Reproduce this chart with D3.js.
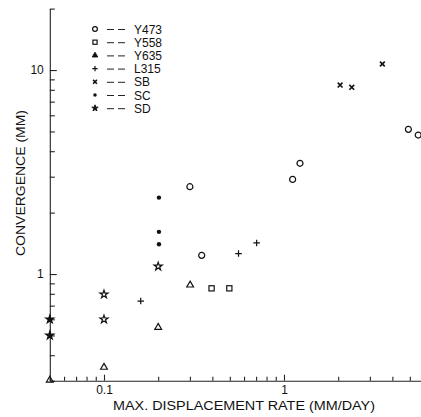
<!DOCTYPE html>
<html lang="en">
<head>
  <meta charset="UTF-8" />
  <title>Convergence vs displacement rate</title>
  <script src="https://d3js.org/d3.v7.min.js"></script>
  <style>
    body { margin: 0; padding: 0; background: #fff; }
    svg { display: block; font-family: "Liberation Sans", Arial, sans-serif; }
    .axis path, .axis line { stroke: #222; stroke-width: 1.1; }
    .axis text { fill: #111; font-size: 12px; }
    .mark { stroke: #111; stroke-width: 1.2; }
  </style>
</head>
<body>
<div id="chart"></div>
<script>
  // ---- data ----
  const seriesNames = ["Y473", "Y558", "Y635", "L315", "SB", "SC", "SD"];

  const y473Rate = [0.30, 0.349, 1.117, 1.227, 4.91, 5.57];
  const y473Conv = [2.68, 1.235, 2.91, 3.49, 5.12, 4.80];

  const y558Rate = [0.396, 0.497];
  const y558Conv = [0.851, 0.851];

  const y635Rate = [0.05, 0.10, 0.20, 0.301];
  const y635Conv = [0.302, 0.349, 0.548, 0.883];

  const l315Rate = [0.16, 0.559, 0.705];
  const l315Conv = [0.737, 1.26, 1.42];

  const sbRate = [2.05, 2.38, 3.52];
  const sbConv = [8.44, 8.23, 10.7];

  const scRate = [0.202, 0.202, 0.202];
  const scConv = [2.37, 1.61, 1.40];

  const sdRate = [0.05, 0.05, 0.10, 0.10, 0.20];
  const sdConv = [0.50, 0.60, 0.60, 0.795, 1.09];

  const xTickLabels = ["0.1", "1"];
  const yTickLabels = ["1", "10"];

  // ---- layout ----
  const width = 421, height = 417;
  const xMin = 0.05, xMax = 6;
  const yMin = 0.3, yMax = 20;

  const x = d3.scaleLog().domain([xMin, xMax])
    .range([49.8, 49.8 + 180 * Math.log10(xMax / xMin)]);
  const y = d3.scaleLog().domain([yMin, yMax])
    .range([380.7, 380.7 - 204 * Math.log10(yMax / yMin)]);

  const svg = d3.select("#chart").append("svg")
    .attr("width", width)
    .attr("height", height);

  // minor tick values: 1..9 times powers of ten inside the domain
  function logTicks(lo, hi) {
    const out = [];
    for (let e = -3; e <= 3; e++) {
      for (let m = 1; m <= 9; m++) {
        const v = m * Math.pow(10, e);
        if (v >= lo * 0.999 && v <= hi * 1.001) out.push(+v.toPrecision(3));
      }
    }
    return out;
  }

  const xLabelSet = new Set(xTickLabels.map(Number));
  const yLabelSet = new Set(yTickLabels.map(Number));

  // x axis (ticks pointing inward)
  const xAxis = svg.append("g")
    .attr("class", "axis")
    .attr("transform", `translate(0,${y(yMin)})`)
    .call(d3.axisBottom(x)
      .tickValues(logTicks(xMin, xMax))
      .tickSizeOuter(0)
      .tickSizeInner(-4)
      .tickPadding(5)
      .tickFormat(d => xLabelSet.has(d) ? xTickLabels.find(t => +t === d) : ""));
  xAxis.selectAll(".tick line")
    .attr("y2", d => xLabelSet.has(d) ? -6 : -4);

  // y axis
  const yAxis = svg.append("g")
    .attr("class", "axis")
    .attr("transform", `translate(${x(xMin)},0)`)
    .call(d3.axisLeft(y)
      .tickValues(logTicks(yMin, 10).concat([yMax]))
      .tickSizeOuter(0)
      .tickSizeInner(-5)
      .tickPadding(6)
      .tickFormat(d => yLabelSet.has(d) ? yTickLabels.find(t => +t === d) : ""));
  yAxis.selectAll(".tick line")
    .attr("x2", d => yLabelSet.has(d) ? 7 : 5);

  // axis titles
  svg.append("text")
    .attr("x", 113)
    .attr("y", 410)
    .attr("textLength", 262)
    .attr("lengthAdjust", "spacingAndGlyphs")
    .style("font-size", "12px")
    .style("fill", "#111")
    .text("MAX. DISPLACEMENT RATE (MM/DAY)");

  svg.append("text")
    .attr("transform", "translate(25,256) rotate(-90)")
    .attr("textLength", 146)
    .attr("lengthAdjust", "spacingAndGlyphs")
    .style("font-size", "12px")
    .style("fill", "#111")
    .text("CONVERGENCE (MM)");

  // ---- marker drawing ----
  const starPath = d3.symbol().type(d3.symbolStar).size(20)();
  const triPath = d3.symbol().type(d3.symbolTriangle).size(20)();

  function drawMarker(g, kind, filled, scale) {
    const s = scale || 1;
    if (kind === "circle") {
      g.append("circle").attr("class", "mark").attr("r", 3 * s)
        .attr("fill", filled ? "#111" : "none");
    } else if (kind === "square") {
      g.append("rect").attr("class", "mark")
        .attr("x", -2.6 * s).attr("y", -2.6 * s)
        .attr("width", 5.2 * s).attr("height", 5.2 * s)
        .attr("fill", filled ? "#111" : "none");
    } else if (kind === "triangle") {
      g.append("path").attr("class", "mark").attr("d", triPath)
        .attr("transform", `scale(${s})`)
        .attr("fill", filled ? "#111" : "none");
    } else if (kind === "plus") {
      g.append("path").attr("class", "mark")
        .attr("d", `M${-3.3 * s},0H${3.3 * s}M0,${-3.3 * s}V${3.3 * s}`);
    } else if (kind === "cross") {
      g.append("path").attr("class", "mark").style("stroke-width", 1.6)
        .attr("d", `M${-2.4 * s},${-2.4 * s}L${2.4 * s},${2.4 * s}M${-2.4 * s},${2.4 * s}L${2.4 * s},${-2.4 * s}`);
    } else if (kind === "dot") {
      g.append("circle").attr("r", 2.2 * s).attr("fill", "#111");
    } else if (kind === "star") {
      g.append("path").attr("class", "mark").attr("d", starPath)
        .attr("transform", `scale(${s})`)
        .attr("fill", filled ? "#111" : "none");
    }
  }

  const series = [
    { rate: y473Rate, conv: y473Conv, kind: "circle" },
    { rate: y558Rate, conv: y558Conv, kind: "square" },
    { rate: y635Rate, conv: y635Conv, kind: "triangle" },
    { rate: l315Rate, conv: l315Conv, kind: "plus" },
    { rate: sbRate, conv: sbConv, kind: "cross" },
    { rate: scRate, conv: scConv, kind: "dot" },
    { rate: sdRate, conv: sdConv, kind: "star" }
  ];

  const plot = svg.append("g");
  series.forEach(sr => {
    sr.rate.forEach((r, i) => {
      const g = plot.append("g")
        .attr("transform", `translate(${x(r)},${y(sr.conv[i])})`);
      // symbols sitting on the y axis were printed solid
      drawMarker(g, sr.kind, sr.kind === "star" && r <= xMin);
    });
  });

  // ---- legend ----
  const legendKinds = ["circle", "square", "triangle", "plus", "cross", "dot", "star"];
  const legendFilled = [false, false, true, false, false, true, true];
  const legend = svg.append("g");
  seriesNames.forEach((name, i) => {
    const row = legend.append("g")
      .attr("transform", `translate(95,${29 + i * 13.2})`);
    drawMarker(row.append("g"), legendKinds[i], legendFilled[i], 0.8);
    row.append("path")
      .attr("d", "M12,0.5H19M23,0.5H30")
      .attr("stroke", "#222")
      .attr("stroke-width", 1);
    row.append("text")
      .attr("x", 39)
      .attr("y", 4.5)
      .style("font-size", "12px")
      .style("fill", "#111")
      .text(name);
  });
</script>
</body>
</html>
